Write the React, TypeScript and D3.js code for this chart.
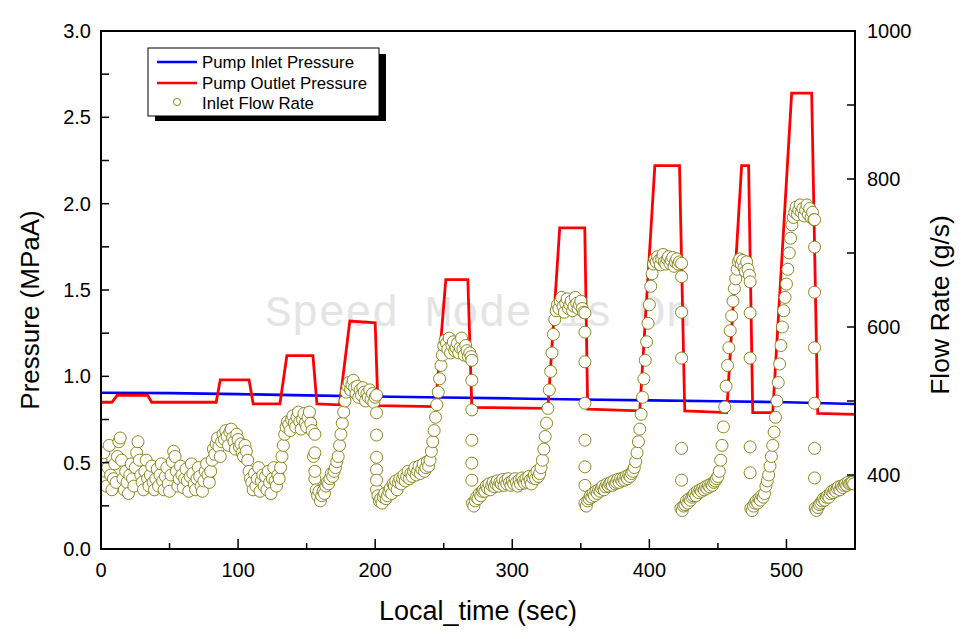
import React from "react";
import * as d3 from "d3";

// ---- Data ----
const inletT = [0, 50, 100, 150, 200, 250, 300, 350, 400, 450, 500, 550];
const inletP = [0.905, 0.903, 0.897, 0.89, 0.883, 0.877, 0.872, 0.866, 0.861, 0.856, 0.85, 0.84];

const outletT = [0, 8, 11.7, 34, 37, 84, 87, 108, 111, 130.5, 135.6, 154.6, 157.5, 174, 181.5, 200, 202, 244, 251.5, 267.6, 270.5, 326, 334.6, 352.9, 355, 393, 404, 422, 425.8, 456.4, 467.3, 472.4, 475.4, 490, 503.8, 518.4, 522.8, 550];
const outletP = [0.85, 0.85, 0.89, 0.89, 0.85, 0.85, 0.98, 0.98, 0.84, 0.84, 1.12, 1.12, 0.84, 0.835, 1.32, 1.31, 0.83, 0.825, 1.56, 1.56, 0.82, 0.815, 1.86, 1.86, 0.81, 0.80, 2.22, 2.22, 0.80, 0.79, 2.22, 2.22, 0.79, 0.79, 2.64, 2.64, 0.785, 0.78];

// inlet flow rate, one sample per second starting at t = 0
const flowRate = [
  420, 395, 430, 405, 385, 410, 440, 400, 380, 395,
  415, 390, 425, 445, 450, 420, 395, 380, 405, 390,
  375, 400, 415, 395, 385, 410, 430, 445, 420, 400,
  390, 380, 405, 420, 395, 385, 400, 412, 390, 380,
  395, 408, 385, 400, 415, 392, 380, 398, 410, 388,
  378, 400, 418, 432, 425, 405, 385, 395, 412, 400,
  383, 395, 408, 392, 378, 398, 415, 402, 388, 380,
  395, 410, 398, 385, 378, 392, 405, 415, 400, 390,
  405, 420, 435, 428, 442, 450, 438, 425, 445, 455,
  448, 460, 452, 440, 458, 462, 450, 445, 435, 455,
  448, 438, 442, 430, 425, 440, 432, 420, 405, 395,
  390, 380, 402, 385, 395, 410, 378, 392, 400, 385,
  398, 380, 405, 390, 375, 395, 410, 392, 385, 400,
  395, 410, 425, 440, 455, 465, 472, 468, 460, 475,
  480, 470, 465, 478, 485, 472, 462, 475, 483, 470,
  465, 478, 485, 470, 460, 425, 395, 380, 372, 378,
  365, 372, 378, 375, 385, 390, 388, 395, 402, 398,
  405, 410, 418, 425, 440, 455, 470, 485, 500, 512,
  520, 525, 515, 522, 528, 518, 510, 520, 505, 515,
  508, 518, 512, 500, 510, 505, 515, 502, 510, 498,
  505, 380, 372, 365, 368, 362, 370, 375, 368, 372,
  378, 382, 375, 388, 385, 392, 380, 390, 395, 388,
  395, 400, 392, 398, 405, 395, 402, 398, 405, 410,
  400, 405, 412, 402, 408, 415, 405, 410, 418, 412,
  420, 432, 445, 460, 478, 495, 512, 530, 548, 562,
  575, 582, 578, 570, 585, 565, 575, 580, 568, 572,
  578, 565, 572, 585, 570, 562, 575, 568, 560, 565,
  560, 362, 358, 365, 370, 368, 375, 372, 378, 380,
  378, 385, 382, 388, 380, 386, 390, 384, 388, 392,
  385, 390, 388, 394, 386, 392, 388, 395, 390, 386,
  392, 388, 395, 390, 385, 393, 388, 396, 392, 389,
  395, 390, 398, 393, 388, 396, 400, 395, 405, 398,
  402, 410, 420, 435, 452, 470, 490, 515, 540, 565,
  590, 610, 622, 630, 625, 635, 640, 628, 620, 632,
  638, 625, 630, 635, 622, 628, 640, 632, 625, 630,
  635, 625, 620, 362, 358, 365, 368, 372, 370, 375,
  372, 378, 375, 380, 378, 382, 385, 380, 384, 388,
  385, 388, 390, 386, 392, 388, 390, 394, 390, 395,
  392, 396, 393, 398, 395, 400, 398, 402, 405, 410,
  418, 430, 445, 462, 482, 505, 530, 555, 580, 605,
  630, 655, 672, 685, 692, 688, 695, 690, 684, 692,
  698, 688, 685, 692, 695, 686, 690, 694, 682, 688,
  692, 685, 688, 355, 352, 358, 360, 365, 362, 368,
  366, 370, 372, 375, 372, 378, 376, 380, 378, 382,
  380, 384, 382, 386, 384, 388, 386, 390, 392, 395,
  398, 405, 420, 440, 465, 492, 520, 548, 572, 595,
  615, 635, 652, 665, 678, 688, 692, 685, 690, 680,
  675, 688, 678, 670, 355, 352, 358, 362, 365, 362,
  368, 366, 372, 370, 375, 385, 392, 400, 412, 425,
  440, 458, 478, 500, 525, 550, 575, 600, 622, 640,
  658, 678, 700, 720, 738, 748, 755, 762, 752, 758,
  765, 755, 760, 750, 758, 765, 752, 760, 748, 755,
  745, 355, 352, 356, 360, 362, 365, 368, 366, 370,
  372, 370, 375, 378, 376, 380, 378, 382, 384, 380,
  385, 383, 386, 388, 386, 390, 388, 389, 390, 388,
];

// fast transition samples (during flow drops)
const transT = [156, 156, 156,
  201, 201, 201, 201, 201, 201,
  270.5, 270.5, 270.5, 270.5, 270.5, 270.5,
  353, 353, 353, 353, 353, 353, 353,
  423.5, 423.5, 423.5, 423.5, 423.5, 423.5,
  473.5, 473.5, 473.5, 473.5, 473.5,
  520.5, 520.5, 520.5, 520.5, 520.5, 520.5, 520.5];
const transF = [455, 430, 405,
  508, 484, 454, 424, 407, 393,
  555, 528, 488, 447, 416, 393,
  619, 593, 553, 497, 447, 411, 386,
  686, 668, 620, 558, 436, 393,
  661, 619, 558, 438, 403,
  745, 708, 647, 572, 497, 436, 396];

const xTicks = [0, 100, 200, 300, 400, 500];
const yTicks = [0, 0.5, 1.0, 1.5, 2.0, 2.5, 3.0];
const y2Ticks = [400, 600, 800, 1000];

// ---- Layout ----
const W = 961, H = 639;
const L = 101, R = 855, T = 31, B = 549;
const FONT = "'Liberation Sans', Arial, sans-serif";
const OLIVE = "#7d7d0a";

export default function App() {
  const x = d3.scaleLinear().domain([0, 550]).range([L, R]);
  const y = d3.scaleLinear().domain([0, 3]).range([B, T]);
  const y2 = d3.scaleLinear().domain([300, 1000]).range([B, T]);

  const inletLine = d3.line<number>().x((_, i) => x(inletT[i])).y((d) => y(d));
  const outletLine = d3.line<number>().x((_, i) => x(outletT[i])).y((d) => y(d));

  const pts: { t: number; f: number }[] = [];
  flowRate.forEach((f, i) => pts.push({ t: i, f }));
  transT.forEach((t, i) => pts.push({ t, f: transF[i] }));
  pts.sort((a, b) => a.t - b.t);

  const yMinor = d3.range(0, 3.001, 0.25);
  const y2Minor = d3.range(300, 1001, 100);
  const xMinor = d3.range(0, 551, 50);

  return (
    <svg width={W} height={H} style={{ position: "absolute", left: 0, top: 0, background: "#fff" }}>
      <defs>
        <clipPath id="plotClip">
          <rect x={L} y={T} width={R - L} height={B - T} />
        </clipPath>
      </defs>
      <rect x={0} y={0} width={W} height={H} fill="#fff" />
      <text x={265} y={326} fontFamily="'Liberation Mono', 'Courier New', monospace" fontSize={44.5} fill="#e4e4e4">
        Speed Mode is On
      </text>

      <g clipPath="url(#plotClip)">
        <path d={inletLine(inletP) || ""} fill="none" stroke="#0000ff" strokeWidth={2.6} />
        <path d={outletLine(outletP) || ""} fill="none" stroke="#ff0000" strokeWidth={2.8} />
        {pts.map((p, i) => (
          <circle key={i} cx={x(p.t)} cy={y2(p.f)} r={6} fill="#ffffff" stroke={OLIVE} strokeWidth={0.9} />
        ))}
      </g>

      {/* frame */}
      <rect x={L} y={T} width={R - L} height={B - T} fill="none" stroke="#000" strokeWidth={2} />

      {/* left ticks */}
      {yMinor.map((v) => (
        <line key={"yl" + v} x1={L} x2={L + 8} y1={y(v)} y2={y(v)} stroke="#000" strokeWidth={1.5} />
      ))}
      {yTicks.map((v) => (
        <text key={"yt" + v} x={91} y={y(v) + 7} textAnchor="end" fontFamily={FONT} fontSize={20} fill="#000">
          {v.toFixed(1)}
        </text>
      ))}
      {/* right ticks */}
      {y2Minor.map((v) => (
        <line key={"yr" + v} x1={R} x2={R - 8} y1={y2(v)} y2={y2(v)} stroke="#000" strokeWidth={1.5} />
      ))}
      {y2Ticks.map((v) => (
        <text key={"y2t" + v} x={867} y={y2(v) + 7} textAnchor="start" fontFamily={FONT} fontSize={20} fill="#000">
          {v}
        </text>
      ))}
      {/* bottom ticks */}
      {xMinor.map((v) => (
        <line key={"xb" + v} x1={x(v)} x2={x(v)} y1={B} y2={B - (v % 100 === 0 ? 10 : 6)} stroke="#000" strokeWidth={1.5} />
      ))}
      {xTicks.map((v) => (
        <text key={"xt" + v} x={x(v)} y={577} textAnchor="middle" fontFamily={FONT} fontSize={20} fill="#000">
          {v}
        </text>
      ))}

      {/* axis titles */}
      <text x={478} y={620} textAnchor="middle" fontFamily={FONT} fontSize={27} fill="#000">
        Local_time (sec)
      </text>
      <text transform={`translate(39,${310}) rotate(-90)`} textAnchor="middle" fontFamily={FONT} fontSize={26} fill="#000">
        Pressure (MPaA)
      </text>
      <text transform={`translate(949,${305}) rotate(-90)`} textAnchor="middle" fontFamily={FONT} fontSize={26.5} fill="#000">
        Flow Rate (g/s)
      </text>

      {/* legend */}
      <rect x={155} y={54} width={231} height={67} fill="#000" />
      <rect x={148} y={48} width={231} height={68} fill="#fff" stroke="#000" strokeWidth={1} />
      <line x1={157} x2={197} y1={62} y2={62} stroke="#0000ff" strokeWidth={2.5} />
      <line x1={157} x2={197} y1={83} y2={83} stroke="#ff0000" strokeWidth={2.5} />
      <circle cx={177} cy={102} r={3.6} fill="#fff" stroke={OLIVE} strokeWidth={0.9} />
      <text x={202} y={68} fontFamily={FONT} fontSize={16.8} fill="#000">Pump Inlet Pressure</text>
      <text x={202} y={89} fontFamily={FONT} fontSize={16.8} fill="#000">Pump Outlet Pressure</text>
      <text x={202} y={108.5} fontFamily={FONT} fontSize={16.8} fill="#000">Inlet Flow Rate</text>
    </svg>
  );
}
